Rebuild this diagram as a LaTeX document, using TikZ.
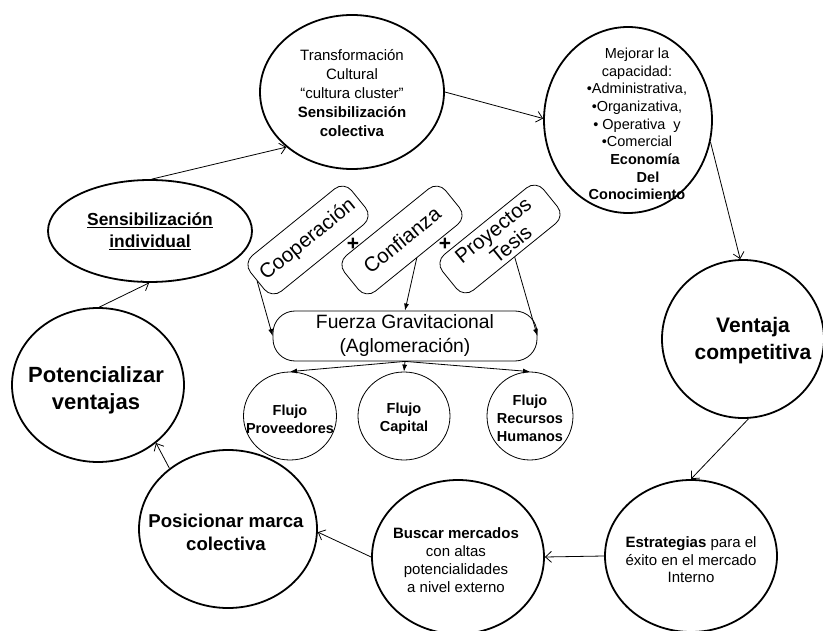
\documentclass[tikz,border=0pt]{standalone}
\usepackage{fontspec}
\setmainfont{Liberation Sans}
\usetikzlibrary{shapes.geometric,arrows.meta,calc}

\tikzset{
  bigell/.style={draw, line width=1.8pt, ellipse, inner sep=0pt},
  flowell/.style={draw, line width=0.8pt, ellipse, inner sep=0pt},
  txt/.style={inner sep=0pt, align=center},
  tagbox/.style={draw, line width=0.8pt, rounded corners=12pt, minimum width=130pt,
    minimum height=46pt, inner sep=0pt, align=center, rotate=39,
    font=\fontsize{20.5}{22}\selectfont},
  forcebox/.style={draw, line width=0.8pt, rounded corners=22pt, minimum width=264pt,
    minimum height=50pt, inner sep=0pt, align=center,
    font=\fontsize{19.3}{24}\selectfont},
  cyc/.style={line width=0.8pt, -{Straight Barb[length=6pt,width=11pt]}},
  feed/.style={line width=0.8pt, -{Latex[length=7pt,width=5pt]}},
}

\begin{document}
\begin{tikzpicture}[x=1pt,y=-1pt]
\useasboundingbox (0,0) rectangle (823,631);

% ---- cycle ellipses ----
\node[bigell, minimum width=184pt, minimum height=154pt] (trans) at (352,92) {};
\node[txt, font=\fontsize{15}{19}\selectfont] (transt) at (352,93)
  {Transformación\\Cultural\\“cultura cluster”\\\textbf{Sensibilización}\\\textbf{colectiva}};

\node[bigell, minimum width=168pt, minimum height=186pt] (mej) at (628,120) {};
\node[txt, font=\fontsize{14.5}{17.7}\selectfont] (mejt) at (637,124)
  {Mejorar la\\capacidad:\\•Administrativa,\\•Organizativa,\\• Operativa\ \ y\\•Comercial\\
   \hspace*{16pt}\textbf{Economía}\\\hspace*{22pt}\textbf{Del}\\\textbf{Conocimiento}};

\node[bigell, minimum width=162pt, minimum height=158pt] (vent) at (743,339) {};
\node[txt, font=\fontsize{21}{27}\selectfont\bfseries] (ventt) at (753,341)
  {Ventaja\\competitiva};

\node[bigell, minimum width=172pt, minimum height=152pt] (estr) at (691,556) {};
\node[txt, font=\fontsize{15}{17.5}\selectfont] (estrt) at (691,560)
  {\textbf{Estrategias} para el\\éxito en el mercado\\Interno};

\node[bigell, minimum width=172pt, minimum height=154pt] (busc) at (458,557) {};
\node[txt, font=\fontsize{15}{18}\selectfont] (busct) at (456,560)
  {\textbf{Buscar mercados}\\con altas\\potencialidades\\a nivel externo};

\node[bigell, minimum width=178pt, minimum height=158pt] (pos) at (228,529) {};
\node[txt, font=\fontsize{18.6}{23}\selectfont\bfseries] (post) at (226,532)
  {Posicionar marca\\colectiva};

\node[bigell, minimum width=172pt, minimum height=154pt] (pot) at (98,385) {};
\node[txt, font=\fontsize{22}{27}\selectfont\bfseries] (pott) at (96,390)
  {Potencializar\\ventajas};

\node[bigell, minimum width=204pt, minimum height=102pt] (sind) at (150,231) {};
\node[txt, font=\fontsize{17.4}{22}\selectfont\bfseries] (sindt) at (150,231)
  {\underline{Sensibilización}\\\underline{individual}};

% ---- central block ----
\node[tagbox] (coop) at (308,240) {Cooperación};
\node[tagbox] (conf) at (402,240) {Confianza};
\node[tagbox] (proy) at (500,239) {Proyectos\\\hspace*{10pt}Tesis};
\node[txt, font=\fontsize{21}{21}\selectfont\bfseries] (plusa) at (353,244) {+};
\node[txt, font=\fontsize{21}{21}\selectfont\bfseries] (plusb) at (445,244) {+};

\node[forcebox] (fuerza) at (405,336) {Fuerza Gravitacional\\(Aglomeración)};

\node[flowell, minimum width=93pt, minimum height=88pt] (prov) at (290,416) {};
\node[flowell, minimum width=92pt, minimum height=88pt] (cap) at (404,416) {};
\node[flowell, minimum width=86pt, minimum height=88pt] (rrhh) at (530,416) {};
\node[txt, font=\fontsize{14.5}{18}\selectfont\bfseries] (provt) at (290,419) {Flujo\\Proveedores};
\node[txt, font=\fontsize{14.5}{18}\selectfont\bfseries] (capt) at (404,419) {Flujo\\Capital};
\node[txt, font=\fontsize{14.5}{18}\selectfont\bfseries] (rrhht) at (530,418) {Flujo\\Recursos\\Humanos};

% ---- connectors ----
\draw[feed] (coop.west) -- (fuerza.west);
\draw[feed] (conf.south) -- (fuerza.north);
\draw[feed] (proy.south) -- (fuerza.east);
\draw[feed] (fuerza.south) -- (prov.north);
\draw[feed] (fuerza.south) -- (cap.north);
\draw[feed] (fuerza.south) -- (rrhh.north);

\draw[cyc] (sind.88) -- (trans.220);
\draw[cyc] (trans.0) -- (mej.179);
\draw[cyc] (mej.-15) -- (vent.92);
\draw[cyc] (vent.-86) -- (estr.90);
\draw[cyc] (estr.180) -- (busc.0);
\draw[cyc] (busc.180) -- (pos.-2);
\draw[cyc] (pos.134) -- (pot.-45);
\draw[cyc] (pot.89) -- (sind.-91);
\end{tikzpicture}
\end{document}
